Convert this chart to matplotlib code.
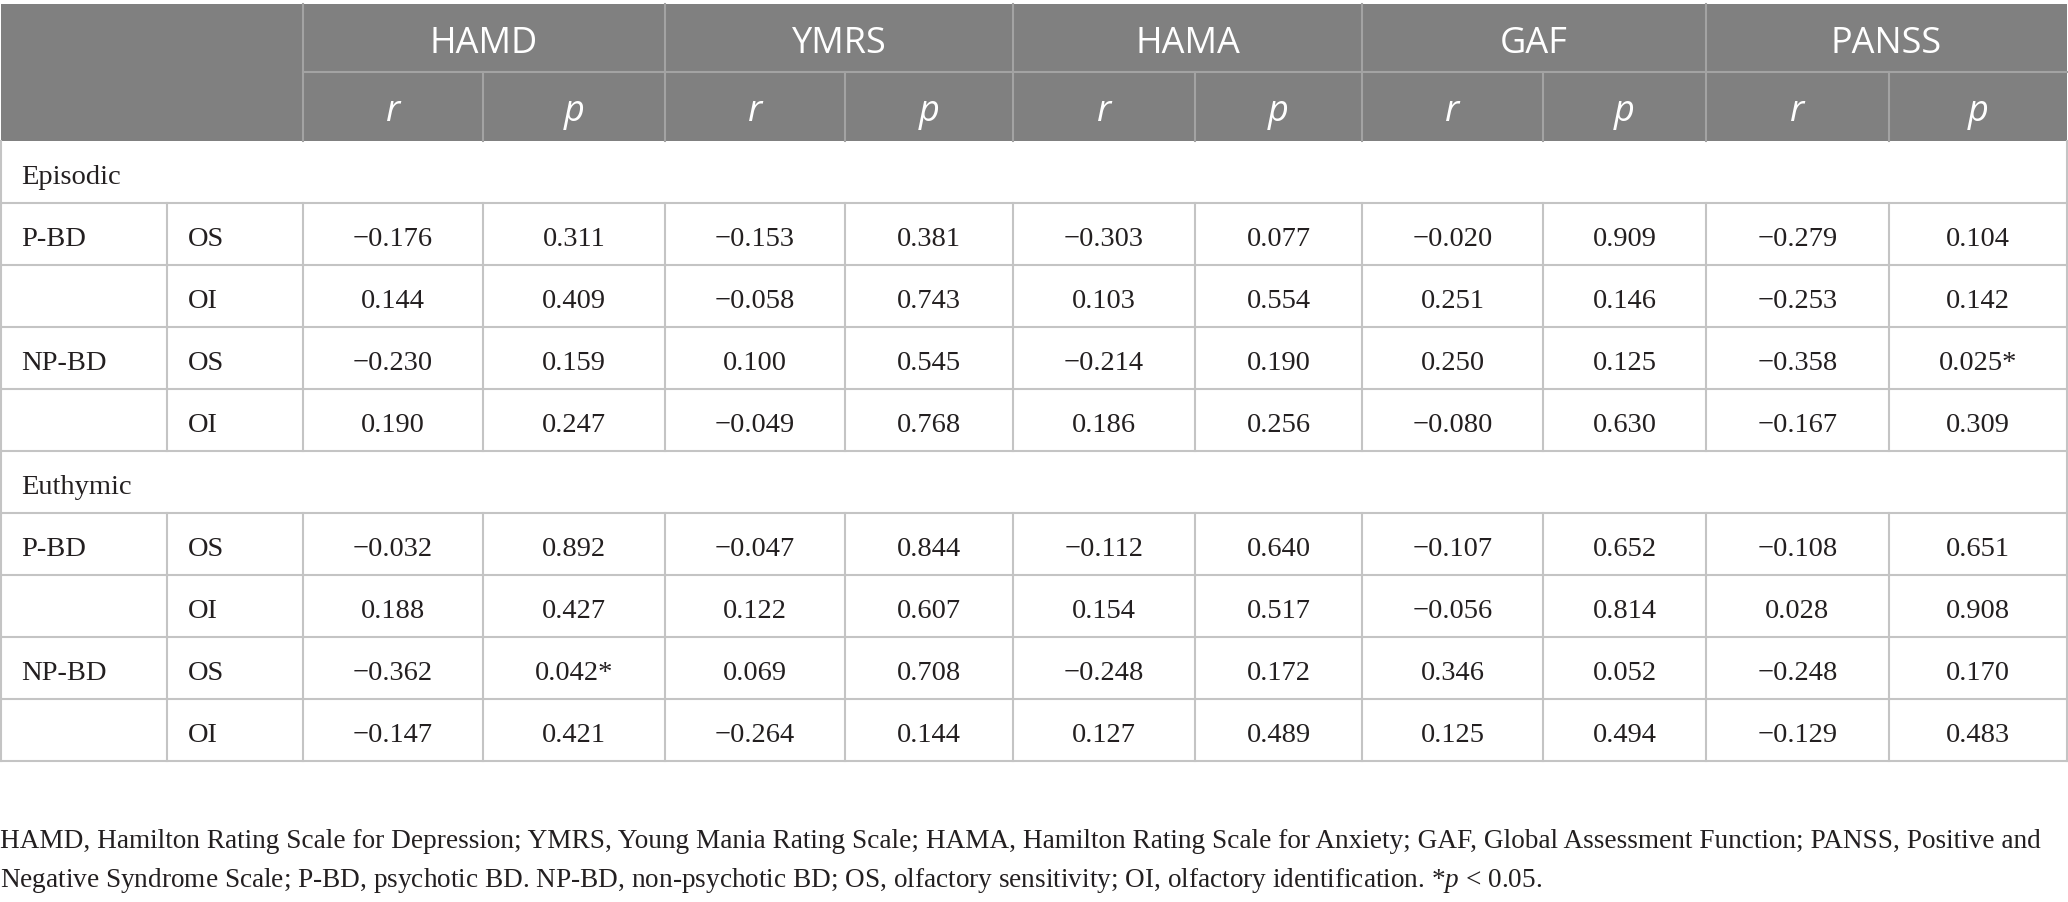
import matplotlib
matplotlib.use("Agg")
import matplotlib.pyplot as plt
from matplotlib.patches import Rectangle

plt.rcParams['mathtext.fontset'] = 'custom'
plt.rcParams['mathtext.rm'] = 'Liberation Serif'
plt.rcParams['mathtext.it'] = 'Liberation Serif:italic'

# table data
scales = ['HAMD', 'YMRS', 'HAMA', 'GAF', 'PANSS']
states = ['Episodic', 'Euthymic']
groups = ['P-BD', '', 'NP-BD', '']
measures = ['OS', 'OI', 'OS', 'OI']

episodic_r = [[-0.176, -0.153, -0.303, -0.020, -0.279],
              [0.144, -0.058, 0.103, 0.251, -0.253],
              [-0.230, 0.100, -0.214, 0.250, -0.358],
              [0.190, -0.049, 0.186, -0.080, -0.167]]
episodic_p = [[0.311, 0.381, 0.077, 0.909, 0.104],
              [0.409, 0.743, 0.554, 0.146, 0.142],
              [0.159, 0.545, 0.190, 0.125, 0.025],
              [0.247, 0.768, 0.256, 0.630, 0.309]]
euthymic_r = [[-0.032, -0.047, -0.112, -0.107, -0.108],
              [0.188, 0.122, 0.154, -0.056, 0.028],
              [-0.362, 0.069, -0.248, 0.346, -0.248],
              [-0.147, -0.264, 0.127, 0.125, -0.129]]
euthymic_p = [[0.892, 0.844, 0.640, 0.652, 0.651],
              [0.427, 0.607, 0.517, 0.814, 0.908],
              [0.042, 0.708, 0.172, 0.052, 0.170],
              [0.421, 0.144, 0.489, 0.494, 0.483]]

footnote = ["HAMD, Hamilton Rating Scale for Depression; YMRS, Young Mania Rating Scale; HAMA, Hamilton Rating Scale for Anxiety; GAF, Global Assessment Function; PANSS, Positive and",
            "Negative Syndrome Scale; P-BD, psychotic BD. NP-BD, non-psychotic BD; OS, olfactory sensitivity; OI, olfactory identification. *$p$ < 0.05."]

# layout in pixels
W, H = 2068, 902
col_x = [1, 167, 303, 483, 665, 845, 1013, 1195, 1362, 1543, 1706, 1889, 2067]
head_y = [4, 72, 141]
row_h = 62
head_bg = '#808080'
head_line = '#a3a3a3'
grid = '#c4c4c4'
lw = 1.5
serif = 'Liberation Serif'
sans = 'Open Sans'
body_fs = 20.5
head_fs = 26
text_col = '#231f20'


def fmt(v, p=False):
    s = f"{v:.3f}".replace('-', '\u2212')
    if p and v < 0.05:
        s += '*'
    return s


fig = plt.figure(figsize=(W / 100, H / 100), dpi=100)
ax = fig.add_axes([0, 0, 1, 1])
ax.set_xlim(0, W)
ax.set_ylim(H, 0)
ax.axis('off')

# header block
ax.add_patch(Rectangle((col_x[0], head_y[0]), col_x[-1] - col_x[0], head_y[2] - head_y[0],
                       facecolor=head_bg, edgecolor='none'))
ax.plot([col_x[2], col_x[-1]], [head_y[1], head_y[1]], color=head_line, lw=lw)
for i, name in enumerate(scales):
    x0, x1 = col_x[2 + 2 * i], col_x[4 + 2 * i]
    ax.text((x0 + x1) / 2, head_y[0] + 49, name, ha='center', va='baseline',
            fontsize=head_fs, family=sans, color='white')
    ax.plot([x0, x0], [head_y[0], head_y[2]], color=head_line, lw=lw)
    for j, sym in enumerate(['r', 'p']):
        c0, c1 = col_x[2 + 2 * i + j], col_x[3 + 2 * i + j]
        ax.text((c0 + c1) / 2, head_y[1] + 49, sym, ha='center', va='baseline',
                fontsize=head_fs, family=sans, style='italic', color='white')
    ax.plot([col_x[3 + 2 * i]] * 2, [head_y[1], head_y[2]], color=head_line, lw=lw)

# body
y = head_y[2]
for state, r_rows, p_rows in zip(states, [episodic_r, euthymic_r], [episodic_p, euthymic_p]):
    ax.text(col_x[0] + 20, y + 43, state, ha='left', va='baseline', fontsize=body_fs,
            family=serif, color=text_col)
    ax.plot([col_x[0]] * 2, [y, y + row_h], color=grid, lw=lw)
    ax.plot([col_x[-1]] * 2, [y, y + row_h], color=grid, lw=lw)
    y += row_h
    ax.plot([col_x[0], col_x[-1]], [y, y], color=grid, lw=lw)
    for g, m, rr, pp in zip(groups, measures, r_rows, p_rows):
        ax.text(col_x[0] + 20, y + 43, g, ha='left', va='baseline', fontsize=body_fs,
                family=serif, color=text_col)
        ax.text(col_x[1] + 21, y + 43, m, ha='left', va='baseline', fontsize=body_fs,
                family=serif, color=text_col)
        cells = []
        for rv, pv in zip(rr, pp):
            cells += [fmt(rv), fmt(pv, True)]
        for k, s in enumerate(cells):
            ax.text((col_x[2 + k] + col_x[3 + k]) / 2, y + 43, s, ha='center', va='baseline',
                    fontsize=body_fs, family=serif, color=text_col)
        for x in col_x:
            ax.plot([x, x], [y, y + row_h], color=grid, lw=lw)
        y += row_h
        ax.plot([col_x[0], col_x[-1]], [y, y], color=grid, lw=lw)

# footnote
for i, line in enumerate(footnote):
    ax.text(0, 848 + 39 * i, line, ha='left', va='baseline', fontsize=19.6,
            family=serif, color=text_col)

fig.savefig('out.png', dpi=100)
